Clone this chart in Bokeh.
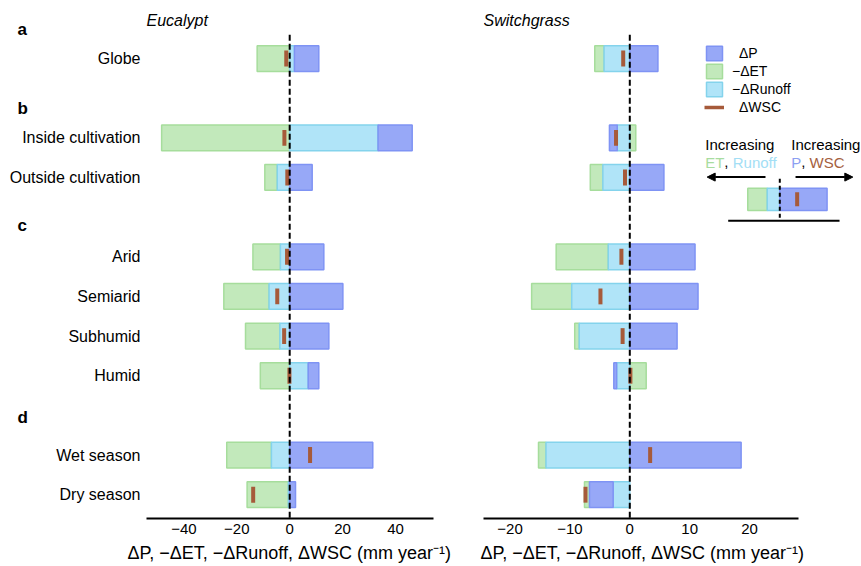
import numpy as np
from bokeh.plotting import figure
from bokeh.layouts import row
from bokeh.models import (Range1d, FixedTicker, Legend, LegendItem, Label, Title,
                          Arrow, NormalHead)
from bokeh.core.properties import value
from bokeh.embed import file_html
from bokeh.resources import INLINE

# ---------------- data ----------------
group_letters = ["a", "b", "c", "d"]
group_members = [
    ["Globe"],
    ["Inside cultivation", "Outside cultivation"],
    ["Arid", "Semiarid", "Subhumid", "Humid"],
    ["Wet season", "Dry season"],
]

# Eucalypt (mm/yr): dP, -dET, -dRunoff, dWSC
euc_dP        = [9.2, 12.9, 8.5, 12.9, 20.1, 14.8, 4.0, 31.4, 2.2]
euc_negET     = [-12.3, -48.4, -4.7, -10.4, -17.1, -13.0, -11.1, -16.9, -15.6]
euc_negRunoff = [1.8, 33.4, -4.7, -3.5, -7.8, -3.7, 7.0, -6.9, -0.5]
euc_dWSC      = [-1.3, -2.0, -0.9, -1.0, -4.7, -2.1, -0.1, 7.7, -13.8]

# Switchgrass
swg_dP        = [4.7, -1.3, 5.7, 10.9, 11.4, 7.9, -0.47, 18.6, -3.95]
swg_negET     = [-1.55, 1.0, -2.1, -8.7, -6.7, -0.75, 2.74, -1.25, -0.84]
swg_negRunoff = [-4.3, -2.1, -4.5, -3.6, -9.7, -8.45, -2.2, -14.0, -2.78]
swg_dWSC      = [-1.1, -2.3, -0.8, -1.4, -4.9, -1.2, 0.1, 3.4, -7.4]

euc_ticks = [-40, -20, 0, 20, 40]
swg_ticks = [-20, -10, 0, 10, 20]

# schematic (key) example values
key_dP, key_negET, key_negRunoff, key_dWSC = 7.9, -3.25, -2.1, 2.9

legend_labels = ["\u2002\u0394P", "\u2212\u0394ET", "\u2212\u0394Runoff", "\u2002\u0394WSC"]
axis_title = "\u0394P, \u2212\u0394ET, \u2212\u0394Runoff, \u0394WSC (mm year\u207b\u00b9)"

# ---------------- styling ----------------
FONT = "Liberation Sans"
C_P, E_P = "#97a8f7", "#7f93f4"
C_ET, E_ET = "#c2e9bb", "#a6dd9c"
C_RO, E_RO = "#b0e4f8", "#84d3ec"
C_WSC = "#a65a3a"
BAR_H = 0.65

# row positions (one empty row between groups)
categories, rows, first_rows = [], [], []
pos = 0
for gi, members in enumerate(group_members):
    if gi > 0:
        pos += 1
    first_rows.append(pos)
    for m in members:
        categories.append(m)
        rows.append(pos)
        pos += 1
rows = np.array(rows, dtype=float)
letter_offsets = [0.74, 0.73, 0.78, 0.95]

Y_TOP_AXIS = -0.6      # top of the data area
Y_BOTTOM = 11.6        # frame bottom (x axis)
Y_RANGE = (Y_BOTTOM, -1.463)
H = 566


def stack(series):
    """Stack series outward from zero: positives to the right, negatives to the left."""
    n = len(series[0])
    pos_acc = np.zeros(n)
    neg_acc = np.zeros(n)
    out = []
    for s in series:
        s = np.asarray(s, dtype=float)
        left = np.where(s >= 0, pos_acc, neg_acc + s)
        right = np.where(s >= 0, pos_acc + s, neg_acc)
        pos_acc = np.where(s >= 0, pos_acc + s, pos_acc)
        neg_acc = np.where(s < 0, neg_acc + s, neg_acc)
        out.append((left, right))
    return out


def draw_bars(p, y, dP, negET, negRO, dWSC, x0=0.0, h=BAR_H, wsc_h=0.4):
    (ro_l, ro_r), (p_l, p_r), (et_l, et_r) = stack([negRO, dP, negET])
    r_et = p.hbar(y=y, left=et_l + x0, right=et_r + x0, height=h,
                  fill_color=C_ET, line_color=E_ET, line_width=1.5)
    r_ro = p.hbar(y=y, left=ro_l + x0, right=ro_r + x0, height=h,
                  fill_color=C_RO, line_color=E_RO, line_width=1.5)
    r_p = p.hbar(y=y, left=p_l + x0, right=p_r + x0, height=h,
                 fill_color=C_P, line_color=E_P, line_width=1.5)
    r_w = p.rect(x=np.asarray(dWSC, dtype=float) + x0, y=y, width=4, width_units="screen",
                 height=wsc_h, fill_color=C_WSC, line_color=None)
    return r_p, r_et, r_ro, r_w


def make_panel(width, xr, border_left, border_right, bounds, ticks, title,
               dP, negET, negRO, dWSC, title_offset):
    p = figure(width=width, height=H, x_range=Range1d(*xr), y_range=Range1d(*Y_RANGE),
               output_backend="svg", toolbar_location=None,
               min_border_top=0, min_border_bottom=48,
               min_border_left=border_left, min_border_right=border_right,
               y_axis_location=None)
    p.outline_line_color = None
    p.grid.visible = False
    p.background_fill_color = "white"
    p.border_fill_color = "white"

    xa = p.xaxis[0]
    xa.ticker = FixedTicker(ticks=ticks)
    xa.major_label_overrides = {t: (f"\u2212{abs(t)}" if t < 0 else str(t)) for t in ticks}
    xa.bounds = bounds
    xa.axis_line_width = 2
    xa.axis_line_color = "black"
    xa.major_tick_line_color = None
    xa.minor_tick_line_color = None
    xa.major_tick_out = 0
    xa.major_tick_in = 0
    xa.minor_tick_out = 0
    xa.major_label_text_font = FONT
    xa.major_label_text_font_size = "15px"
    xa.major_label_text_color = "black"
    xa.major_label_standoff = 5

    p.add_layout(Title(text=axis_title, align="left", offset=title_offset, standoff=8,
                       text_font=FONT, text_font_size="18px", text_font_style="normal",
                       text_color="black"), "below")

    rends = draw_bars(p, rows, dP, negET, negRO, dWSC)

    # zero reference line
    p.segment(x0=[0], y0=[Y_TOP_AXIS], x1=[0], y1=[Y_BOTTOM], line_color="black",
              line_width=2, line_dash="6 3")

    # panel title (species)
    p.text(x=[bounds[0]], y=[-0.95], text=[title], text_font=value(FONT),
           text_font_size="16px", text_font_style="italic", text_align="left",
           text_baseline="alphabetic", text_color="black")
    return p, rends


# ---------------- left panel (Eucalypt) ----------------
L_XR = (-109.3, 54.35)
p1, _ = make_panel(453, L_XR, 0, 20, (-54.12, 54.35), euc_ticks, "Eucalypt",
                   euc_dP, euc_negET, euc_negRunoff, euc_dWSC, title_offset=127)
# category labels (right-aligned just left of the data area)
p1.text(x=np.full(len(rows), -56.4), y=rows, text=categories, text_font=value(FONT),
        text_font_size="16px", text_align="right", text_baseline="middle",
        text_color="black")
# group letters
p1.text(x=np.full(len(group_letters), -102.9),
        y=[fr - off for fr, off in zip(first_rows, letter_offsets)],
        text=group_letters, text_font=value(FONT), text_font_size="17px",
        text_font_style="bold", text_align="left", text_baseline="alphabetic",
        text_color="black")

# ---------------- right panel (Switchgrass) ----------------
p2, (r_p, r_et, r_ro, r_w) = make_panel(408, (-24.44, 38.71), 30, 0, (-24.44, 28.24),
                                        swg_ticks, "Switchgrass",
                                        swg_dP, swg_negET, swg_negRunoff, swg_dWSC,
                                        title_offset=-3)

r_wleg = p2.line(x=[np.nan, np.nan], y=[np.nan, np.nan], line_color=C_WSC, line_width=3.5)
legend = Legend(items=[LegendItem(label=legend_labels[0], renderers=[r_p]),
                       LegendItem(label=legend_labels[1], renderers=[r_et]),
                       LegendItem(label=legend_labels[2], renderers=[r_ro]),
                       LegendItem(label=legend_labels[3], renderers=[r_wleg])],
                location=(221, 402), glyph_width=20, glyph_height=18, label_height=18,
                label_width=10, spacing=0, padding=0, margin=0, label_standoff=8,
                border_line_color=None, background_fill_alpha=0,
                label_text_font=FONT, label_text_font_size="14px", label_text_color="black")
p2.add_layout(legend)

# schematic key
KEY_X0, KEY_Y = 25.06, 3.55
draw_bars(p2, [KEY_Y], [key_dP], [key_negET], [key_negRunoff], [key_dWSC],
          x0=KEY_X0, h=0.56, wsc_h=0.35)
p2.segment(x0=[KEY_X0], y0=[3.03], x1=[KEY_X0], y1=[4.09], line_color="black",
           line_width=2, line_dash="4 3")
p2.segment(x0=[16.44], y0=[4.09], x1=[35.04], y1=[4.09], line_color="black", line_width=2)
p2.add_layout(Arrow(x_start=22.67, y_start=2.99, x_end=12.93, y_end=2.99, line_width=2,
                    end=NormalHead(size=8, fill_color="black", line_color="black")))
p2.add_layout(Arrow(x_start=27.69, y_start=2.99, x_end=37.26, y_end=2.99, line_width=2,
                    end=NormalHead(size=8, fill_color="black", line_color="black")))

key_texts = [
    (12.6, 2.16, "Increasing", "black"),
    (12.6, 2.62, "ET", "#a8dca0"),
    (15.8, 2.62, ",", "black"),
    (17.2, 2.62, "Runoff", "#a3def5"),
    (26.97, 2.16, "Increasing", "black"),
    (26.97, 2.62, "P", "#8c9ff2"),
    (28.64, 2.62, ",", "black"),
    (30.03, 2.62, "WSC", "#a5603e"),
]
for x, y, t, c in key_texts:
    p2.add_layout(Label(x=x, y=y, text=t, text_font=FONT, text_font_size="15px",
                        text_baseline="alphabetic", text_color=c))

layout = row(p1, p2)
open("out.html", "w").write(file_html(layout, INLINE))
